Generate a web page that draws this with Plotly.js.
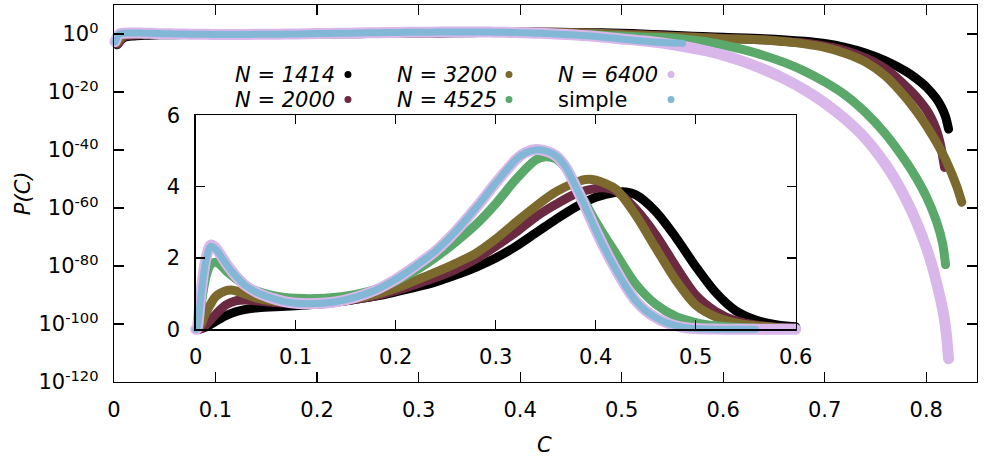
<!DOCTYPE html>
<html>
<head>
<meta charset="utf-8">
<script src="https://cdn.plot.ly/plotly-3.0.1.min.js"></script>
<style>
html,body{margin:0;padding:0;background:#fff;}
#chart{width:986px;height:457px;}
.scatterlayer .js-line{stroke-linecap:round !important;}
</style>
</head>
<body>
<div id="chart"></div>
<script>
// ---- data ----
const seriesNames = ['N = 1414', 'N = 2000', 'N = 3200', 'N = 4525', 'N = 6400', 'simple'];
const seriesColors = ['#000000', '#6b2a42', '#7b692d', '#5ba86b', '#d9b7ea', '#82b8d6'];

const c1414 = [0, 0.003, 0.01, 0.02, 0.03, 0.04, 0.05, 0.06, 0.08, 0.10, 0.12, 0.14, 0.16, 0.18, 0.20, 0.22, 0.24, 0.26, 0.28, 0.30, 0.32, 0.34, 0.36, 0.38, 0.40, 0.42, 0.43, 0.44, 0.46, 0.48, 0.50, 0.52, 0.54, 0.56, 0.58, 0.60, 0.64, 0.68, 0.70, 0.72, 0.74, 0.76, 0.78, 0.79, 0.80, 0.81, 0.815, 0.819, 0.822];
const p1414 = [0, 2e-4, 0.06, 0.22, 0.38, 0.49, 0.56, 0.6, 0.63, 0.66, 0.7, 0.76, 0.84, 0.93, 1.05, 1.18, 1.33, 1.52, 1.74, 2.0, 2.32, 2.7, 3.08, 3.43, 3.7, 3.84, 3.85, 3.77, 3.3, 2.58, 1.76, 1.03, 0.52, 0.26, 0.13, 0.07, 2.5e-2, 3e-3, 5e-4, 2.5e-5, 3e-7, 6e-10, 1.3e-13, 5e-16, 6e-19, 5e-23, 6e-26, 3e-29, 1.6e-33];

const c2000 = [0, 0.004, 0.01, 0.02, 0.03, 0.04, 0.05, 0.06, 0.08, 0.10, 0.12, 0.14, 0.16, 0.18, 0.20, 0.22, 0.24, 0.26, 0.28, 0.30, 0.32, 0.34, 0.36, 0.38, 0.40, 0.41, 0.42, 0.44, 0.46, 0.48, 0.50, 0.52, 0.54, 0.56, 0.58, 0.60, 0.64, 0.66, 0.68, 0.70, 0.72, 0.74, 0.76, 0.78, 0.79, 0.80, 0.805, 0.81, 0.814, 0.818];
const p2000 = [0, 3e-4, 0.12, 0.42, 0.68, 0.8, 0.82, 0.8, 0.75, 0.72, 0.72, 0.76, 0.84, 0.94, 1.08, 1.26, 1.45, 1.68, 1.97, 2.33, 2.72, 3.15, 3.5, 3.8, 3.95, 3.96, 3.88, 3.37, 2.65, 1.77, 0.96, 0.5, 0.24, 0.12, 0.06, 0.03, 1e-2, 3e-3, 8e-4, 8e-5, 2e-6, 6e-9, 1e-12, 1e-18, 3e-22, 1e-26, 1e-29, 1e-33, 1e-38, 1e-46];

const c3200 = [0, 0.003, 0.01, 0.02, 0.03, 0.035, 0.04, 0.05, 0.06, 0.08, 0.10, 0.12, 0.14, 0.16, 0.18, 0.20, 0.22, 0.24, 0.26, 0.28, 0.30, 0.32, 0.34, 0.36, 0.38, 0.39, 0.40, 0.42, 0.44, 0.46, 0.48, 0.50, 0.52, 0.54, 0.56, 0.58, 0.60, 0.64, 0.66, 0.68, 0.70, 0.72, 0.74, 0.76, 0.78, 0.79, 0.80, 0.81, 0.82, 0.83, 0.835];
const p3200 = [0, 1e-3, 0.45, 0.92, 1.08, 1.1, 1.08, 0.98, 0.88, 0.78, 0.74, 0.74, 0.78, 0.86, 0.98, 1.15, 1.37, 1.6, 1.85, 2.13, 2.53, 3.0, 3.45, 3.85, 4.12, 4.2, 4.18, 3.93, 3.2, 2.28, 1.38, 0.68, 0.35, 0.18, 0.1, 0.05, 0.025, 8e-3, 2.5e-3, 4e-4, 2.5e-5, 2.5e-7, 2.5e-10, 3e-15, 1e-22, 3e-27, 3e-32, 5e-38, 1e-44, 3e-53, 1e-58];

const c4525 = [0, 0.002, 0.005, 0.01, 0.015, 0.02, 0.025, 0.03, 0.04, 0.05, 0.06, 0.08, 0.10, 0.12, 0.14, 0.16, 0.18, 0.20, 0.22, 0.24, 0.26, 0.28, 0.30, 0.32, 0.34, 0.35, 0.36, 0.37, 0.38, 0.40, 0.42, 0.44, 0.46, 0.48, 0.50, 0.52, 0.55, 0.58, 0.60, 0.62, 0.64, 0.66, 0.68, 0.70, 0.72, 0.74, 0.76, 0.78, 0.79, 0.80, 0.81, 0.816, 0.819];
const p4525 = [0, 5e-3, 0.6, 1.45, 1.82, 1.88, 1.8, 1.65, 1.42, 1.22, 1.08, 0.93, 0.87, 0.86, 0.9, 0.98, 1.12, 1.35, 1.65, 2.02, 2.45, 2.93, 3.52, 4.2, 4.75, 4.84, 4.78, 4.52, 4.05, 3.02, 2.13, 1.27, 0.7, 0.36, 0.19, 0.1, 0.045, 3e-3, 1.6e-4, 4e-6, 4e-8, 1.6e-10, 1.6e-13, 3e-17, 1e-21, 1e-27, 3e-35, 1e-44, 3e-50, 1e-56, 3e-65, 1e-72, 3e-80];

const c6400 = [0, 0.001, 0.005, 0.01, 0.015, 0.02, 0.03, 0.04, 0.05, 0.06, 0.07, 0.08, 0.09, 0.10, 0.12, 0.14, 0.16, 0.18, 0.20, 0.22, 0.24, 0.26, 0.28, 0.30, 0.32, 0.33, 0.34, 0.35, 0.36, 0.37, 0.38, 0.39, 0.40, 0.41, 0.42, 0.43, 0.44, 0.45, 0.46, 0.47, 0.48, 0.49, 0.50, 0.52, 0.54, 0.56, 0.58, 0.60, 0.62, 0.64, 0.66, 0.68, 0.70, 0.72, 0.74, 0.76, 0.77, 0.78, 0.79, 0.80, 0.805, 0.81, 0.815, 0.819, 0.822];
const p6400 = [0, 2e-3, 0.95, 1.95, 2.36, 2.28, 1.86, 1.5, 1.22, 1.05, 0.93, 0.84, 0.77, 0.73, 0.72, 0.77, 0.9, 1.1, 1.4, 1.78, 2.2, 2.75, 3.4, 4.1, 4.75, 4.96, 5.04, 5.0, 4.87, 4.55, 4.0, 3.4, 2.78, 2.2, 1.68, 1.2, 0.8, 0.52, 0.33, 0.19, 0.1, 0.045, 0.02, 5e-3, 8e-4, 6e-5, 2.5e-6, 5e-8, 3e-10, 6e-13, 4e-16, 6e-20, 1.6e-24, 5e-30, 1e-36, 1e-45, 3e-51, 1e-57, 3e-65, 3e-74, 1e-79, 3e-86, 1e-93, 1e-101, 1e-112];

const cSimple = [0, 0.001, 0.005, 0.01, 0.015, 0.02, 0.03, 0.04, 0.05, 0.06, 0.07, 0.08, 0.09, 0.10, 0.12, 0.14, 0.16, 0.18, 0.20, 0.22, 0.24, 0.26, 0.28, 0.30, 0.32, 0.33, 0.34, 0.35, 0.36, 0.37, 0.38, 0.39, 0.40, 0.41, 0.42, 0.43, 0.44, 0.45, 0.46, 0.47, 0.48, 0.49, 0.50, 0.52, 0.54, 0.56];
const pSimple = [0, 2e-3, 0.9, 1.9, 2.33, 2.25, 1.85, 1.5, 1.22, 1.05, 0.93, 0.84, 0.77, 0.73, 0.72, 0.77, 0.9, 1.1, 1.4, 1.78, 2.2, 2.75, 3.4, 4.1, 4.75, 4.95, 5.03, 5.0, 4.87, 4.55, 4.0, 3.4, 2.78, 2.2, 1.68, 1.2, 0.8, 0.52, 0.33, 0.19, 0.1, 0.045, 0.02, 4e-3, 1.2e-3, 6e-4];

const mainXTicks = [0, 0.1, 0.2, 0.3, 0.4, 0.5, 0.6, 0.7, 0.8];
const mainYTickVals = [1e-120, 1e-100, 1e-80, 1e-60, 1e-40, 1e-20, 1];
const mainYTickText = ['10<sup>-120</sup>', '10<sup>-100</sup>', '10<sup>-80</sup>', '10<sup>-60</sup>', '10<sup>-40</sup>', '10<sup>-20</sup>', '10<sup>0</sup>'];
const insetXTicks = [0, 0.1, 0.2, 0.3, 0.4, 0.5, 0.6];
const insetYTicks = [0, 2, 4, 6];

// ---- build ----
const allC = [c1414, c2000, c3200, c4525, c6400, cSimple];
const allP = [p1414, p2000, p3200, p4525, p6400, pSimple];
const widths = [9, 9, 9, 9, 11, 7];
const FONT = 'DejaVu Sans';
const INSET_MAX_C = 0.6;

const traces = [];
// main panel (log axis: non-positive values cannot be shown)
allC.forEach((c, i) => {
  traces.push({
    x: c, y: allP[i].map(v => (v > 0 ? v : null)), type: 'scatter', mode: 'lines',
    xaxis: 'x', yaxis: 'y', name: seriesNames[i],
    line: {color: seriesColors[i], width: widths[i], shape: 'spline', smoothing: 0.8},
    hoverinfo: 'skip', showlegend: false
  });
});
// inset panel (linear axis, only the part inside its x range)
allC.forEach((c, i) => {
  const keep = c.map(v => v <= INSET_MAX_C + 1e-9);
  traces.push({
    x: c.filter((v, j) => keep[j]), y: allP[i].filter((v, j) => keep[j]),
    type: 'scatter', mode: 'lines', xaxis: 'x2', yaxis: 'y2', name: seriesNames[i],
    line: {color: seriesColors[i], width: widths[i], shape: 'spline', smoothing: 0.8},
    hoverinfo: 'skip', showlegend: false
  });
});

const axCommon = {
  ticks: 'inside', ticklen: 10, tickwidth: 1.2, tickcolor: 'black',
  showline: true, linecolor: 'black', linewidth: 1.3, mirror: 'ticks',
  showgrid: false, zeroline: false,
  tickfont: {family: FONT, size: 21, color: 'black'}
};

const legendX = [0.1379, 0.1379, 0.3256, 0.3256, 0.5122, 0.5122];
const legendY = [0.8156, 0.7493, 0.8156, 0.7493, 0.8156, 0.7493];
const dotX = [0.2711, 0.2711, 0.4577, 0.4577, 0.6454, 0.6454];

const annotations = [
  {text: 'C', xref: 'paper', yref: 'paper', x: 0.4994, y: -0.167, showarrow: false,
   xanchor: 'center', yanchor: 'middle', font: {family: FONT, size: 21, color: 'black', style: 'italic'}},
  {text: 'P(C)', xref: 'paper', yref: 'paper', x: -0.1054, y: 0.501, showarrow: false,
   textangle: -90, xanchor: 'center', yanchor: 'middle', font: {family: FONT, size: 21, color: 'black', style: 'italic'}}
];
const shapes = [
  {type: 'rect', xref: 'x2 domain', yref: 'y2 domain', x0: 0, x1: 1, y0: 0, y1: 1,
   fillcolor: '#e0e0e0', line: {width: 0}, layer: 'below'}
];
seriesNames.forEach((n, i) => {
  annotations.push({
    text: n, xref: 'paper', yref: 'paper', x: legendX[i], y: legendY[i], showarrow: false,
    xanchor: 'left', yanchor: 'middle',
    font: {family: FONT, size: 21, color: 'black', style: n.startsWith('N') ? 'italic' : 'normal'}
  });
  shapes.push({
    type: 'circle', xref: 'paper', yref: 'paper', xsizemode: 'pixel', ysizemode: 'pixel',
    xanchor: dotX[i], yanchor: legendY[i], x0: -3.5, x1: 3.5, y0: -3.5, y1: 3.5,
    fillcolor: seriesColors[i], line: {width: 0}
  });
});

const layout = {
  width: 986, height: 457,
  margin: {l: 114, r: 9, t: 5, b: 75},
  paper_bgcolor: 'white', plot_bgcolor: 'white',
  showlegend: false,
  font: {family: FONT, size: 21, color: 'black'},
  xaxis: Object.assign({}, axCommon, {domain: [0, 1], range: [0, 0.85], tickvals: mainXTicks, ticktext: mainXTicks.map(String), ticklabelstandoff: 8}),
  yaxis: Object.assign({}, axCommon, {type: 'log', range: [-120, 10], tickvals: mainYTickVals, ticktext: mainYTickText, ticklabelstandoff: 10}),
  xaxis2: Object.assign({}, axCommon, {domain: [0.0947, 0.790], anchor: 'y2', range: [0, 0.6], tickvals: insetXTicks, ticktext: insetXTicks.map(String), ticklen: 9, ticklabelstandoff: 8}),
  yaxis2: Object.assign({}, axCommon, {domain: [0.1398, 0.7074], anchor: 'x2', range: [0, 6], tickvals: insetYTicks, ticktext: insetYTicks.map(String), ticklen: 9, ticklabelstandoff: 10}),
  shapes: shapes,
  annotations: annotations
};

Plotly.newPlot('chart', traces, layout, {staticPlot: true, displayModeBar: false}).then(gd => {
  // let the thick point-like bands overhang the frames, as in the reference
  gd.querySelectorAll('.cartesianlayer [clip-path]').forEach(el => el.removeAttribute('clip-path'));
});
</script>
</body>
</html>
